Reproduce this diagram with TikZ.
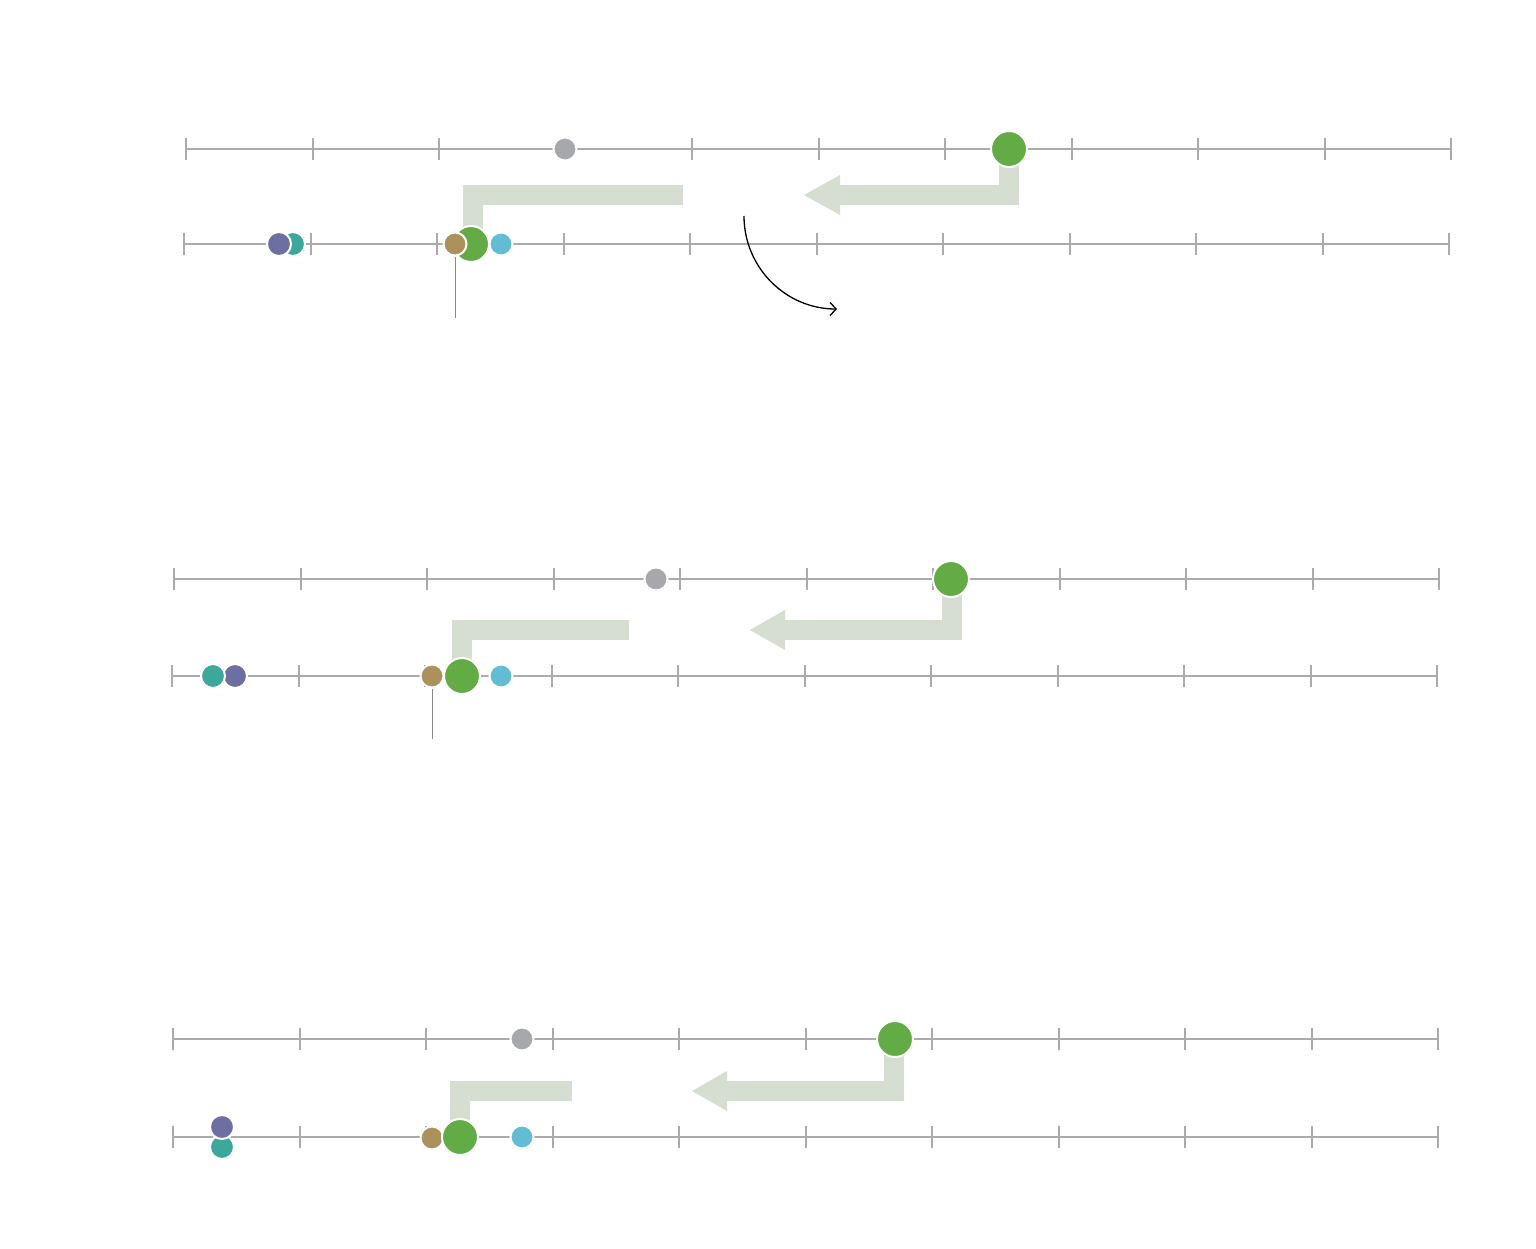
\documentclass[tikz,border=0pt]{standalone}
\usetikzlibrary{arrows.meta}
\definecolor{axisc}{HTML}{ABABAE}
\definecolor{dgreen}{HTML}{63AB45}
\definecolor{dgray}{HTML}{A7A8AC}
\definecolor{dteal}{HTML}{3BA89B}
\definecolor{dpurple}{HTML}{6D6EA1}
\definecolor{dbrown}{HTML}{AD915C}
\definecolor{dblue}{HTML}{62BCD4}
\definecolor{bandc}{HTML}{D6DED2}
\definecolor{leader}{HTML}{8A8A8A}
\tikzset{
  axisline/.style={draw=axisc, line width=1pt},
  tickmark/.style={draw=axisc, line width=1pt},
  dotbig/.style={circle, fill=dgreen, draw=white, line width=1pt, minimum size=18pt, inner sep=0pt},
  dotmid/.style={circle, draw=white, line width=1pt, minimum size=12pt, inner sep=0pt},
  dotsmall/.style={circle, draw=white, line width=1pt, minimum size=11.5pt, inner sep=0pt},
  band/.style={draw=bandc, line width=10pt, line join=miter, line cap=butt},
  bandhead/.style={fill=bandc, draw=none},
  leaderline/.style={draw=leader, line width=0.5pt},
  curvearrow/.style={draw=black, line width=0.65pt, -{Straight Barb[length=3pt,width=6.5pt]}}
}
\begin{document}
\begin{tikzpicture}[x=0.5pt, y=-0.5pt]
\useasboundingbox[fill=white] (0,0) rectangle (1536,1248);

% axes
\foreach \xa/\ya in {186/149, 184/244, 174/579, 172/676, 173/1039, 173/1137}{
  \draw[axisline] (\xa,\ya) -- ({\xa+1265},\ya);
  \foreach \i in {0,...,10}{
    \draw[tickmark] ({\xa+126.5*\i},{\ya-11}) -- ({\xa+126.5*\i},{\ya+11});
  }
}

% ---------- panel 1 ----------
\coordinate (p1c1) at (1009,195);
\coordinate (p1c2) at (840,195);
\coordinate (p1l1) at (683,195);
\coordinate (p1l2) at (473,195);
\coordinate (p1l3) at (473,244);
\draw[band] (1009,149) -- (p1c1) -- (p1c2);
\fill[bandhead] (840,175) -- (804,195) -- (840,215) -- cycle;
\draw[band] (p1l1) -- (p1l2) -- (p1l3);

\node[dotsmall, fill=dgray] (p1gray) at (565,149) {};
\node[dotbig] (p1green) at (1009,149) {};

\node[dotmid, fill=dteal] (p1teal) at (293,244) {};
\node[dotmid, fill=dpurple] (p1purple) at (279,244) {};
\node[dotbig] (p1greenb) at (471,244) {};
\node[dotsmall, fill=dbrown] (p1brown) at (455,244) {};
\node[dotsmall, fill=dblue] (p1blue) at (501,244) {};
\coordinate (p1lead) at (455,318);
\draw[leaderline] (p1brown.south) -- (p1lead);

\coordinate (cstart) at (744,216);
\coordinate (cend) at (837,309);
\draw[curvearrow] (cstart) .. controls (744,267.4) and (785.6,309) .. (cend);

% ---------- panel 2 ----------
\coordinate (p2c1) at (952,630);
\coordinate (p2c2) at (785,630);
\coordinate (p2l1) at (629,630);
\coordinate (p2l2) at (462,630);
\coordinate (p2l3) at (462,676);
\draw[band] (952,579) -- (p2c1) -- (p2c2);
\fill[bandhead] (785,610) -- (750,630) -- (785,650) -- cycle;
\draw[band] (p2l1) -- (p2l2) -- (p2l3);

\node[dotsmall, fill=dgray] (p2gray) at (656,579) {};
\node[dotbig] (p2green) at (951,579) {};

\node[dotmid, fill=dpurple] (p2purple) at (235,676) {};
\node[dotmid, fill=dteal] (p2teal) at (213,676) {};
\node[dotsmall, fill=dbrown] (p2brown) at (432,676) {};
\node[dotbig] (p2greenb) at (462,676) {};
\node[dotsmall, fill=dblue] (p2blue) at (501,676) {};
\coordinate (p2lead) at (432,739);
\draw[leaderline] (p2brown.south) -- (p2lead);

% ---------- panel 3 ----------
\coordinate (p3c1) at (894,1091);
\coordinate (p3c2) at (727,1091);
\coordinate (p3l1) at (572,1091);
\coordinate (p3l2) at (460,1091);
\coordinate (p3l3) at (460,1137);
\draw[band] (894,1039) -- (p3c1) -- (p3c2);
\fill[bandhead] (727,1071) -- (692,1091) -- (727,1111) -- cycle;
\draw[band] (p3l1) -- (p3l2) -- (p3l3);

\node[dotsmall, fill=dgray] (p3gray) at (522,1039) {};
\node[dotbig] (p3green) at (895,1039) {};

\node[dotmid, fill=dteal] (p3teal) at (222,1147) {};
\node[dotmid, fill=dpurple] (p3purple) at (222,1127) {};
\node[dotsmall, fill=dbrown] (p3brown) at (432,1138) {};
\node[dotbig] (p3greenb) at (460,1137) {};
\node[dotsmall, fill=dblue] (p3blue) at (522,1137) {};
\end{tikzpicture}
\end{document}
